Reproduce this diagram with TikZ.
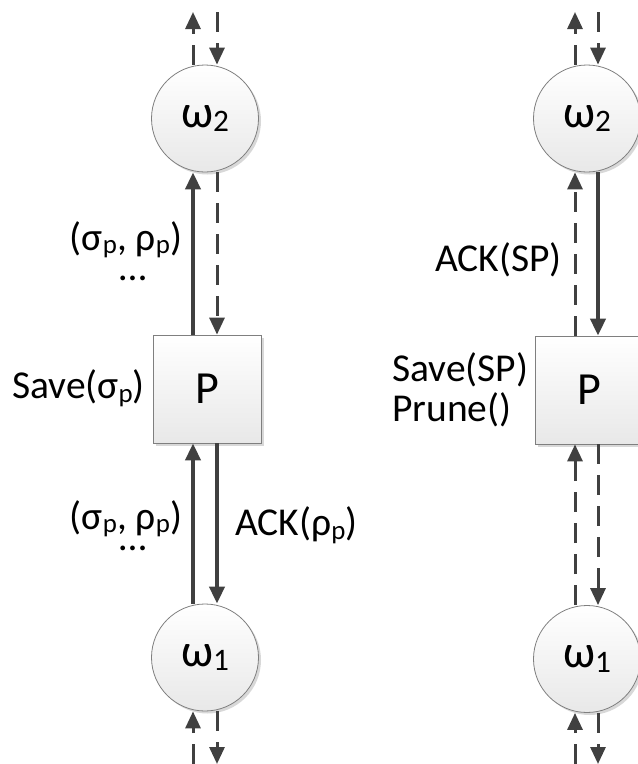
\documentclass[tikz,border=0pt]{standalone}
\usepackage{fontspec}
\setmainfont{Carlito}
\usetikzlibrary{arrows.meta,shadows}
\definecolor{arr}{HTML}{404040}
\definecolor{bord}{HTML}{7F7F7F}
\newcommand\lsub[1]{\raisebox{-0.1em}{\scalebox{0.68}{#1}}}
\begin{document}
\begin{tikzpicture}[x=1pt,y=-1pt,
  shaded/.style={draw=bord,line width=0.8pt,inner sep=0pt,top color=white,bottom color=black!9,
    drop shadow={shadow xshift=2.5pt,shadow yshift=-2.5pt,fill=black!30,opacity=0.5},
    font=\fontsize{46}{46}\selectfont},
  proc/.style={shaded,circle,minimum size=107pt},
  sbox/.style={shaded,rectangle,minimum size=108pt},
  solidarr/.style={draw=arr,line width=4pt,-{Triangle[length=17pt,width=15pt]}},
  dasharr/.style={draw=arr,line width=3pt,dash pattern=on 20pt off 11pt,-{Triangle[length=17pt,width=15pt]}},
  lbl/.style={font=\fontsize{39.5}{40}\selectfont,inner sep=0pt}]
\useasboundingbox (0,0) rectangle (638,764);

% left column
\node[proc] (L2) at (205,118.5) {ω\lsub{2}};
\node[sbox] (LP) at (207,389) {P};
\node[proc] (L1) at (205,657.5) {ω\lsub{1}};
\coordinate (la) at (193,0);
\coordinate (lb) at (217,0);
\coordinate (lat) at (193,12);
\coordinate (lbt) at (217,12);
\coordinate (lab) at (193,764);
\coordinate (lbb) at (217,764);

\draw[dasharr] (L2.north -| la) -- (lat);
\draw[dasharr] (lbt) -- (L2.north -| lb);
\draw[solidarr] (LP.north -| la) -- (L2.south -| la);
\draw[dasharr] (L2.south -| lb) -- (LP.north -| lb);
\draw[solidarr] (L1.north -| la) -- (LP.south -| la);
\draw[solidarr] (LP.south -| lb) -- (L1.north -| lb);
\draw[dasharr] (lab) -- (L1.south -| la);
\draw[dasharr] (L1.south -| lb) -- (lbb);

\node[lbl,align=center,anchor=base] (t1) at (126,280)
  {(σ\lsub{p}, ρ\lsub{p})\\[-10pt]\hspace{14pt}…};
\node[lbl,align=center,anchor=base] (t2) at (126,550)
  {(σ\lsub{p}, ρ\lsub{p})\\[-19pt]\hspace{14pt}…};
\node[lbl,anchor=east] (sv) at (145,388) {Save(σ\lsub{p})};
\node[lbl,anchor=west] (ack) at (235,525) {ACK(ρ\lsub{p})};

% right column
\node[proc] (R2) at (587,118.5) {ω\lsub{2}};
\node[sbox] (RP) at (589,390) {P};
\node[proc] (R1) at (587,659) {ω\lsub{1}};
\coordinate (ra) at (575,0);
\coordinate (rb) at (598,0);
\coordinate (rat) at (575,12);
\coordinate (rbt) at (598,12);
\coordinate (rab) at (575,764);
\coordinate (rbb) at (598,764);

\draw[dasharr] (R2.north -| ra) -- (rat);
\draw[dasharr] (rbt) -- (R2.north -| rb);
\draw[dasharr] (RP.north -| ra) -- (R2.south -| ra);
\draw[solidarr] (R2.south -| rb) -- (RP.north -| rb);
\draw[dasharr] (R1.north -| ra) -- (RP.south -| ra);
\draw[dasharr] (RP.south -| rb) -- (R1.north -| rb);
\draw[dasharr] (rab) -- (R1.south -| ra);
\draw[dasharr] (R1.south -| rb) -- (rbb);

\node[lbl,anchor=east] (rack) at (562,260) {ACK(SP)};
\node[lbl,anchor=west,align=left] (rsv) at (392,390) {Save(SP)\\Prune()};
\end{tikzpicture}
\end{document}
